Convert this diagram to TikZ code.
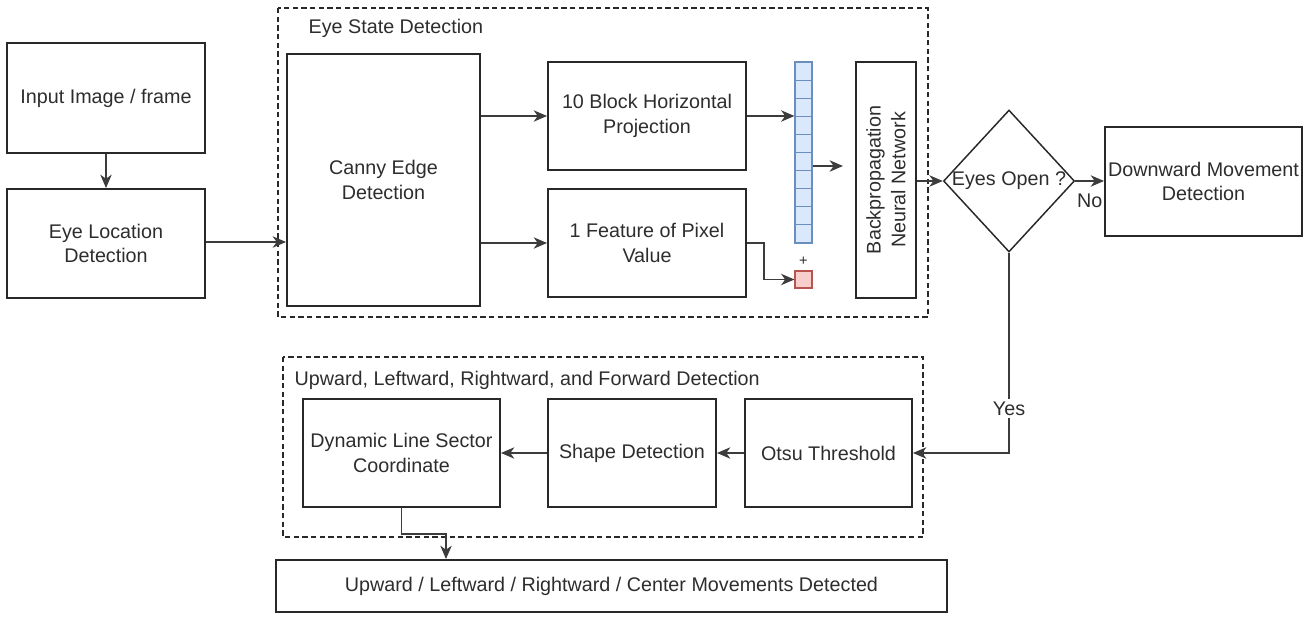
\documentclass[tikz,border=0pt]{standalone}
\usepackage{fontspec}
\setmainfont{Liberation Sans}
\usetikzlibrary{arrows.meta,shapes.geometric,calc}
\definecolor{ink}{RGB}{40,40,40}
\definecolor{wire}{RGB}{60,60,60}
\definecolor{txt}{RGB}{45,45,45}
\definecolor{cellfill}{RGB}{218,232,252}
\definecolor{celldraw}{RGB}{108,142,191}
\definecolor{pinkfill}{RGB}{248,206,204}
\definecolor{pinkdraw}{RGB}{184,84,80}
\tikzset{
  every node/.style={font=\fontsize{14.8}{18.5}\selectfont, text=txt},
  box/.style={draw=ink, line width=1.4pt, rectangle, inner sep=1pt, align=center},
  group/.style={draw=ink, line width=1.1pt, dash pattern=on 4pt off 2.5pt},
  conn/.style={draw=wire, line width=1.4pt, -{Stealth[length=10pt,width=8.5pt,inset=3pt]}},
  cell/.style={draw=celldraw, fill=cellfill, line width=0.8pt, rectangle, inner sep=0pt,
    minimum width=17*0.75pt, minimum height=18.1*0.75pt},
}
\begin{document}
\begin{tikzpicture}[x=0.75pt, y=-0.75pt]
\useasboundingbox (0,0) rectangle (1311,617);

% grouping frames
\draw[group] (278,8) rectangle (928,317);
\node[anchor=west] (gtitle1) at (304,28) {Eye State Detection};
\draw[group] (283,357) rectangle (923,537);
\node[anchor=west] (gtitle2) at (290,380) {Upward, Leftward, Rightward, and Forward Detection};

% main blocks
\node[box, minimum width=198*0.75pt, minimum height=110*0.75pt] (inp) at (106,98) {Input Image / frame};
\node[box, minimum width=198*0.75pt, minimum height=109*0.75pt] (loc) at (106,243.5) {Eye Location\\Detection};
\node[box, minimum width=193*0.75pt, minimum height=252*0.75pt] (canny) at (383.5,180) {Canny Edge\\Detection};
\node[box, minimum width=198*0.75pt, minimum height=108*0.75pt] (blk) at (647,116) {10 Block Horizontal\\Projection};
\node[box, minimum width=198*0.75pt, minimum height=108*0.75pt] (feat) at (647,243) {1 Feature of Pixel\\Value};
\node[box, minimum width=60*0.75pt, minimum height=236*0.75pt] (bpnn) at (886,180) {};
\node[rotate=90, align=center, text=txt] (bpnnlabel) at (bpnn.center) {Backpropagation\\Neural Network};
\node[diamond, draw=ink, line width=1.1pt, minimum width=131*0.75pt, minimum height=142*0.75pt,
  inner sep=0pt, aspect=0.92] (dia) at (1009,181) {};
\node (dialabel) at (dia.center) {Eyes Open ?};
\node[box, minimum width=197*0.75pt, minimum height=109*0.75pt] (down) at (1203.5,181.5) {Downward Movement\\Detection};

\node[box, minimum width=197*0.75pt, minimum height=108*0.75pt] (dyn) at (401.5,453) {Dynamic Line Sector\\Coordinate};
\node[box, minimum width=168*0.75pt, minimum height=108*0.75pt] (shape) at (632,453) {Shape Detection};
\node[box, minimum width=167*0.75pt, minimum height=108*0.75pt] (otsu) at (828.5,453) {Otsu Threshold};
\node[box, minimum width=671*0.75pt, minimum height=52*0.75pt] (out) at (611.5,586) {Upward / Leftward / Rightward / Center Movements Detected};

% feature vector: ten projection cells and one pixel-value cell
\foreach \i in {0,...,9} {
  \node[cell] (c\i) at (803.5,{62+18.1*\i+9.05}) {};
}
\node[cell, draw=pinkdraw, fill=pinkfill, minimum height=17*0.75pt] (pix) at (803.5,279.5) {};
\node[inner sep=0pt, font=\fontsize{11}{12}\selectfont] (plus) at (803.5,261) {+};

% connectors
\draw[conn] (inp) -- (loc);
\draw[conn] ($(loc.east)+(0,-1.5)$) -- ($(loc.east -| canny.west)+(0,-1.5)$);
\draw[conn] (canny.east |- blk.west) -- (blk.west);
\draw[conn] (canny.east |- feat.west) -- (feat.west);
\draw[conn] (blk.east) -- (blk.east -| c0.west);
\coordinate (vecout) at (843,166);
\draw[conn] (c0.east |- vecout) -- (vecout);
\draw[conn] (feat.east) -- ++(17,0) |- (pix.west);
\draw[conn] (bpnn.east |- dia.west) -- (dia.west);
\draw[conn] (dia.east) -- node[below=6pt] (nolabel) {No} (dia.east -| down.west);
\draw[conn] (dia.south) -- node[fill=white, inner sep=2pt, pos=0.78] (yeslabel) {Yes} (dia.south |- otsu.east) -- (otsu.east);
\draw[conn] (otsu.west) -- (shape.east);
\draw[conn] (shape.west) -- (dyn.east);
\draw[conn] (dyn.south) -- ++(0,26) -| ($(out.north)+(-165.5,0)$);
\end{tikzpicture}
\end{document}
